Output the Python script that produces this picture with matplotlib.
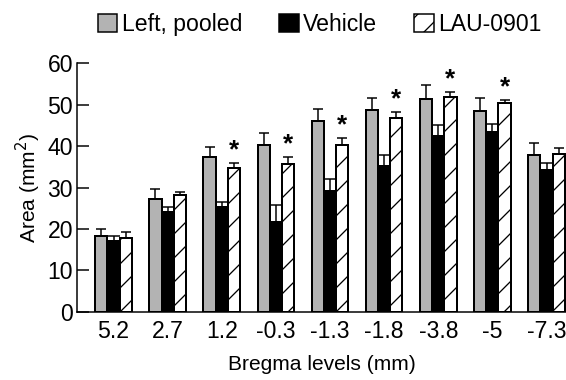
import matplotlib
matplotlib.use('Agg')
import matplotlib.pyplot as plt
from matplotlib.patches import Patch
import numpy as np

# Bregma levels and areas (mm^2)
labels = ['5.2', '2.7', '1.2', '-0.3', '-1.3', '-1.8', '-3.8', '-5', '-7.3']
pooled = [18.4, 27.3, 37.3, 40.3, 46.0, 48.8, 51.4, 48.4, 37.9]
pooled_err = [1.6, 2.4, 2.4, 2.9, 3.0, 2.7, 3.3, 3.2, 2.8]
vehicle = [17.2, 24.0, 25.3, 21.6, 29.2, 35.2, 42.5, 43.4, 34.3]
vehicle_err = [1.0, 1.2, 1.2, 4.1, 2.9, 2.6, 2.5, 1.8, 1.5]
lau = [17.9, 28.1, 34.7, 35.7, 40.2, 46.7, 51.9, 50.3, 38.1]
lau_err = [1.5, 0.8, 1.1, 1.6, 1.7, 1.5, 1.1, 0.7, 1.5]
significant = [False, False, True, True, True, True, True, True, False]

plt.rcParams['font.family'] = ['Liberation Sans', 'DejaVu Sans']
plt.rcParams['hatch.linewidth'] = 1.3

fig = plt.figure(figsize=(566 / 72, 380 / 72), dpi=72)
ax = fig.add_axes([0.136, 0.179, 0.864, 0.655])

x = np.arange(len(labels))
w = 0.225
gray = '#b3b3b3'
bar_kw = dict(edgecolor='black', linewidth=2, zorder=2)
err_kw = dict(elinewidth=1.5, capthick=1.5)

ax.bar(x - w, pooled, w, color=gray, **bar_kw)
ax.bar(x, vehicle, w, color='black', **bar_kw)
ax.bar(x + w, lau, w, color='white', hatch='/', **bar_kw)

zeros = [0] * len(labels)
ax.errorbar(x - w, pooled, yerr=[zeros, pooled_err], fmt='none',
            ecolor='black', capsize=5, zorder=1, **err_kw)
ax.errorbar(x, vehicle, yerr=[zeros, vehicle_err], fmt='none',
            ecolor='black', capsize=6, zorder=1, **err_kw)
ax.errorbar(x + w, lau, yerr=[zeros, lau_err], fmt='none',
            ecolor='black', capsize=5, zorder=1, **err_kw)

for i, sig in enumerate(significant):
    if sig:
        ax.text(x[i] + w, lau[i] + lau_err[i] + 0.2, '*', ha='center',
                va='bottom', fontsize=26, fontweight='bold')

ax.set_xlim(-0.675, 8.36)
ax.set_ylim(0, 60)
ax.set_yticks(range(0, 61, 10))
ax.set_xticks(x)
ax.set_xticklabels(labels)
ax.tick_params(axis='x', length=0, pad=8, labelsize=23)
ax.tick_params(axis='y', direction='in', length=12, width=1.5, pad=4,
               labelsize=23)
for side in ['top', 'right']:
    ax.spines[side].set_visible(False)
for side in ['left', 'bottom']:
    ax.spines[side].set_linewidth(1.5)

ax.set_xlabel('Bregma levels (mm)', fontsize=21, labelpad=12)
ax.set_ylabel('Area (mm$^2$)', fontsize=21, labelpad=4)

handles = [Patch(facecolor=gray, edgecolor='black', linewidth=1.5),
           Patch(facecolor='black', edgecolor='black', linewidth=1.5),
           Patch(facecolor='white', edgecolor='black', linewidth=1.5, hatch='/')]
fig.legend(handles, ['Left, pooled', 'Vehicle', 'LAU-0901'],
           loc='center', bbox_to_anchor=(0.565, 0.935), ncol=3,
           frameon=False, fontsize=23, handlelength=0.85, handleheight=0.85,
           handletextpad=0.2, columnspacing=1.6, borderpad=0)

fig.savefig('out.png', dpi=72)
